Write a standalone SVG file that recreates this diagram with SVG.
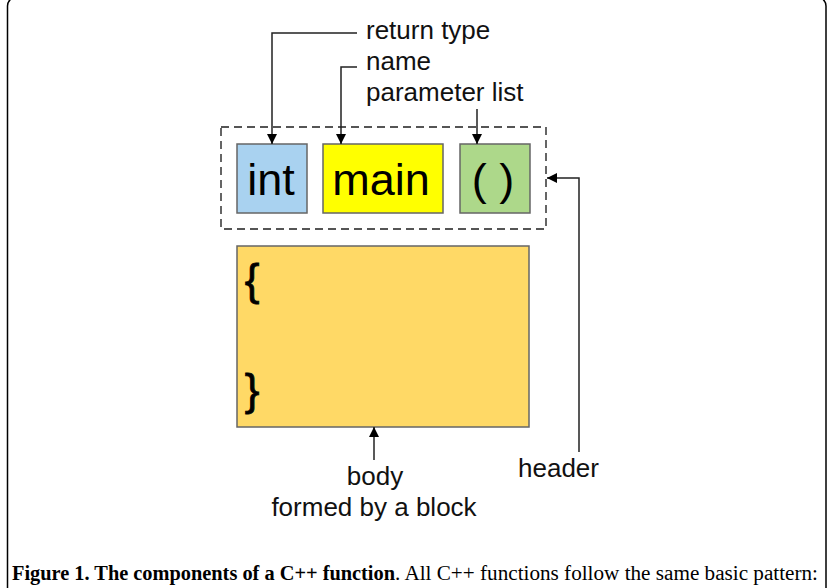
<svg xmlns="http://www.w3.org/2000/svg" width="832" height="588" viewBox="0 0 832 588">
<defs>
<marker id="ah" viewBox="0 0 10 10" refX="10" refY="5" markerWidth="10" markerHeight="10" markerUnits="userSpaceOnUse" orient="auto">
<path d="M0,0 L10,5 L0,10 z" fill="#000"/>
</marker>
</defs>
<style>
.lbl{font-family:"Liberation Sans",Arial,sans-serif;font-size:26px;fill:#111}
.big{font-family:"Liberation Sans",Arial,sans-serif;font-size:45px;fill:#000;text-anchor:middle}
.brace{font-family:"Liberation Sans",Arial,sans-serif;font-size:44px;fill:#000;stroke:#000;stroke-width:0.8;text-anchor:middle}
.box{stroke:#666;stroke-width:1.5}
.conn{fill:none;stroke:#222;stroke-width:1.5}
.cap{font-family:"Liberation Serif","Times New Roman",serif;font-size:20px;fill:#000}
</style>
<rect x="7.5" y="-3" width="818.5" height="600" rx="9" fill="#fff" stroke="#000" stroke-width="1.5"/>
<g id="header">
<rect x="221" y="127" width="325" height="102" fill="none" stroke="#555" stroke-width="1.8" stroke-dasharray="8,5"/>
</g>
<g id="int">
<rect class="box" x="237" y="144" width="70" height="69" fill="#A9D2F0"/>
<text class="big" x="271" y="195">int</text>
</g>
<g id="main">
<rect class="box" x="323" y="144" width="120" height="69" fill="#FFFF00"/>
<text class="big" x="381" y="195">main</text>
</g>
<g id="params">
<rect class="box" x="460" y="144" width="70" height="69" fill="#ADD88A"/>
<text class="big" x="493" y="195">( )</text>
</g>
<g id="body">
<rect class="box" x="237" y="246" width="292" height="181" fill="#FFD966"/>
<text class="brace" x="252" y="295">{</text>
<text class="brace" x="252" y="405">}</text>
</g>
<g id="labels">
<text class="lbl" x="366" y="39">return type</text>
<text class="lbl" x="366" y="70">name</text>
<text class="lbl" x="366" y="101">parameter list</text>
<text class="lbl" x="518" y="477">header</text>
<text class="lbl" x="375" y="485" text-anchor="middle">body</text>
<text class="lbl" x="374" y="516" text-anchor="middle">formed by a block</text>
</g>
<g id="connectors">
<path class="conn" d="M357,33 H272 V144" marker-end="url(#ah)"/>
<path class="conn" d="M357,67 H341 V144" marker-end="url(#ah)"/>
<path class="conn" d="M477,109 V144" marker-end="url(#ah)"/>
<path class="conn" d="M579,452 V178 H547" stroke="#777" marker-end="url(#ah)"/>
<path class="conn" d="M374,460 V427" marker-end="url(#ah)"/>
</g>
<g id="caption">
<text class="cap" x="12" y="580"><tspan font-weight="bold" textLength="383" lengthAdjust="spacingAndGlyphs">Figure 1. The components of a C++ function</tspan><tspan textLength="423" lengthAdjust="spacingAndGlyphs">. All C++ functions follow the same basic pattern:</tspan></text>
</g>
</svg>
